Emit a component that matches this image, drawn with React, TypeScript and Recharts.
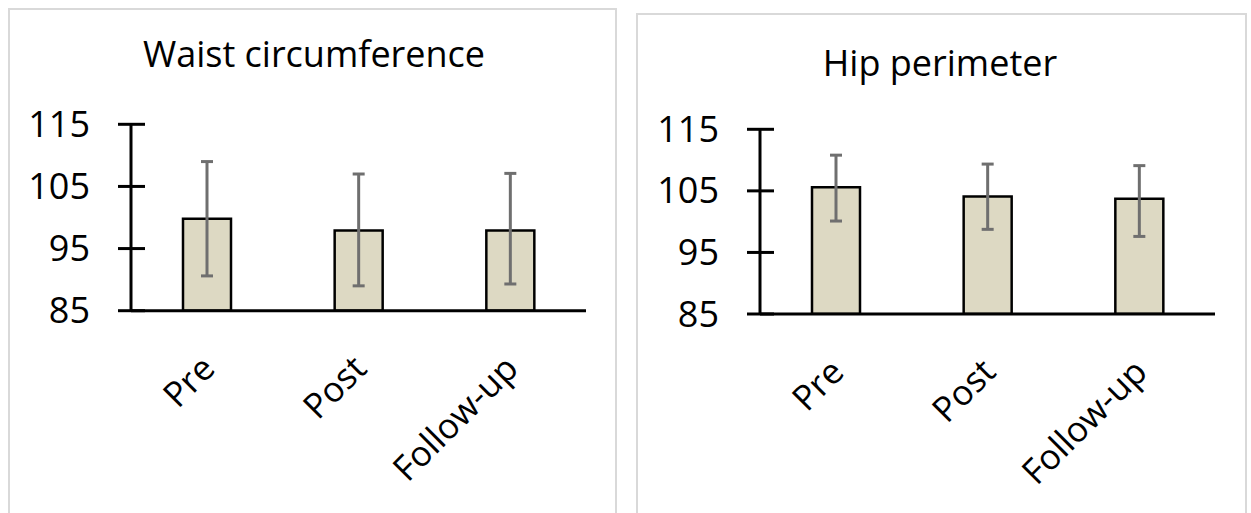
import { BarChart, Bar, XAxis, YAxis, ErrorBar } from "recharts";

const categories = ["Pre", "Post", "Follow-up"];

// waist circumference: mean with lower / upper error
const waistMean = [99.8, 97.9, 97.9];
const waistErrLow = [9.2, 8.9, 8.6];
const waistErrHigh = [9.2, 9.1, 9.2];

// hip perimeter
const hipMean = [105.6, 104.1, 103.7];
const hipErrLow = [5.5, 5.35, 6.1];
const hipErrHigh = [5.2, 5.25, 5.4];

const yTicks = [85, 95, 105, 115];

const FONT = "'Open Sans', 'Noto Sans', sans-serif";

function buildRows(mean: number[], low: number[], high: number[]) {
  return categories.map((name, i) => ({
    name,
    value: mean[i],
    err: [low[i], high[i]],
  }));
}

function YTick({ x, y, payload }: any) {
  return (
    <g>
      <line x1={x - 13} x2={x + 14} y1={y} y2={y} stroke="#000" strokeWidth={3} />
      <text x={x - 41} y={y} dy="0.35em" textAnchor="end" fontSize={36} fill="#000" fontFamily={FONT}>
        {payload.value}
      </text>
    </g>
  );
}

function XTick({ x, y, payload }: any) {
  const tx = x + 10;
  const ty = y + 60;
  return (
    <text
      x={tx}
      y={ty}
      transform={`rotate(-45 ${tx} ${ty})`}
      textAnchor="end"
      fontSize={35}
      fill="#000"
      fontFamily={FONT}
    >
      {payload.value}
    </text>
  );
}

interface PanelProps {
  title: string;
  rows: any[];
  left: number;
  top: number;
  width: number;
  height: number;
  yAxisWidth: number;
  marginRight: number;
  marginBottom: number;
  titleX: number;
  titleY: number;
}

function Panel(p: PanelProps) {
  return (
    <>
      <div
        style={{
          position: "absolute",
          left: p.left - 1,
          top: p.top - 1,
          width: p.width + 3,
          height: 540,
          border: "2px solid #d9d9d9",
          boxSizing: "border-box",
        }}
      />
      <svg
        style={{ position: "absolute", left: p.left, top: p.top }}
        width={p.width}
        height={100}
      >
        <text x={p.titleX} y={p.titleY} textAnchor="middle" fontSize={36} fill="#000" fontFamily={FONT}>
          {p.title}
        </text>
      </svg>
      <div style={{ position: "absolute", left: p.left, top: p.top }}>
        <BarChart
          width={p.width}
          height={p.height}
          data={p.rows}
          margin={{ top: 115.3, left: 0, right: p.marginRight, bottom: p.marginBottom }}
          barSize={48}
        >
          <XAxis
            dataKey="name"
            height={100}
            axisLine={{ stroke: "#000", strokeWidth: 3 }}
            tickLine={false}
            tickSize={0}
            tickMargin={0}
            interval={0}
            tick={<XTick />}
          />
          <YAxis
            width={p.yAxisWidth}
            domain={[85, 115]}
            ticks={yTicks}
            interval={0}
            allowDataOverflow
            axisLine={{ stroke: "#000", strokeWidth: 3 }}
            tickLine={false}
            tickSize={0}
            tickMargin={0}
            tick={<YTick />}
          />
          <Bar dataKey="value" fill="#ddd9c3" stroke="#000" strokeWidth={2.5} isAnimationActive={false}>
            <ErrorBar dataKey="err" width={6} stroke="#6f6f6f" strokeWidth={3} direction="y" />
          </Bar>
        </BarChart>
      </div>
    </>
  );
}

export default function App() {
  const waistRows = buildRows(waistMean, waistErrLow, waistErrHigh);
  const hipRows = buildRows(hipMean, hipErrLow, hipErrHigh);

  return (
    <div
      style={{
        position: "absolute",
        left: 0,
        top: 0,
        width: 1251,
        height: 513,
        overflow: "hidden",
        background: "#fff",
        fontFamily: FONT,
      }}
    >
      <Panel
        title="Waist circumference"
        rows={waistRows}
        left={9}
        top={9}
        width={606}
        height={504}
        yAxisWidth={122}
        marginRight={29}
        marginBottom={102.3}
        titleX={305}
        titleY={58}
      />
      <Panel
        title="Hip perimeter"
        rows={hipRows}
        left={637}
        top={14}
        width={608}
        height={499}
        yAxisWidth={123}
        marginRight={30}
        marginBottom={99}
        titleX={303}
        titleY={62}
      />
    </div>
  );
}
